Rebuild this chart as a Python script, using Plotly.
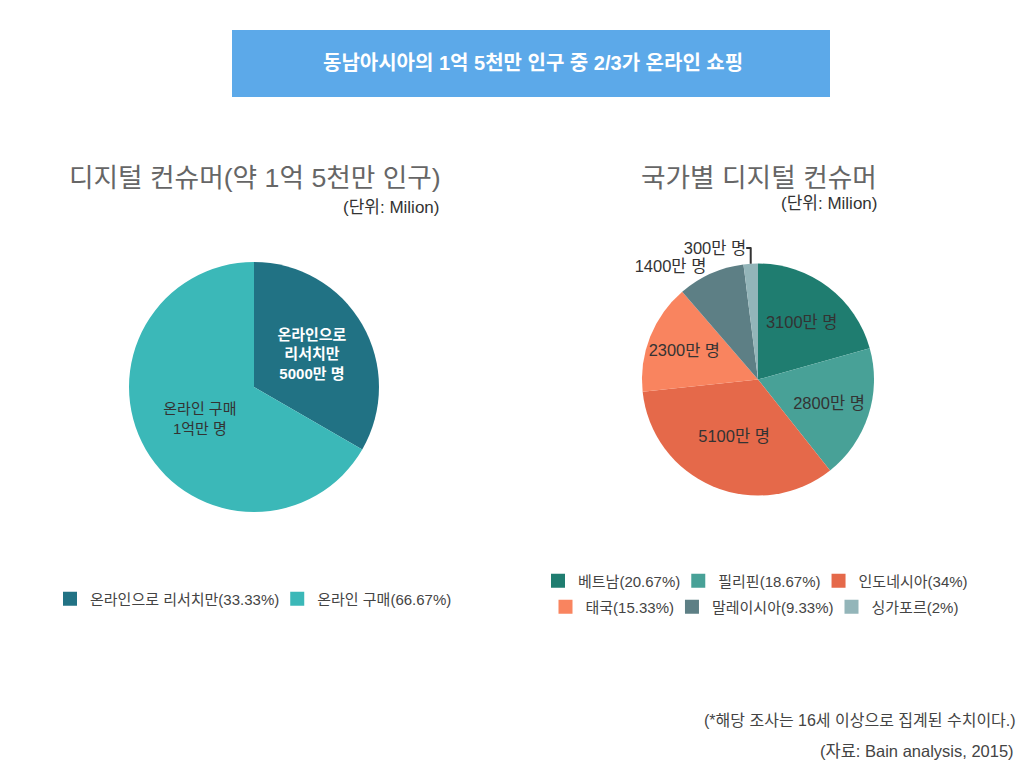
import plotly.graph_objects as go

# ---- data ----
left_labels = ["온라인으로 리서치만", "온라인 구매"]
left_values = [50, 100]
left_text = ["<b>온라인으로<br>리서치만<br>5000만 명</b>", "온라인 구매<br>1억만 명"]
left_colors = ["#217284", "#3bb8b8"]

right_labels = ["베트남", "필리핀", "인도네시아", "태국", "말레이시아", "싱가포르"]
right_values = [31, 28, 51, 23, 14, 3]
right_colors = ["#1f7d70", "#48a197", "#e5694a", "#f9845f", "#5d7f85", "#93b5b9"]

title_text = "동남아시아의 1억 5천만 인구 중 2/3가 온라인 쇼핑"
left_title = "디지털 컨슈머(약 1억 5천만 인구)"
right_title = "국가별 디지털 컨슈머"
unit_text = "(단위: Milion)"
note_text = "(*해당 조사는 16세 이상으로 집계된 수치이다.)"
source_text = "(자료: Bain analysis, 2015)"

FONT = "Liberation Sans, Noto Sans CJK KR, sans-serif"
W, H = 1024, 771


def px(x):
    return x / W


def py(y):
    return 1 - y / H


def pct_name(labels, values):
    tot = sum(values)
    return [f"{l}({round(v / tot * 100, 2):g}%)" for l, v in zip(labels, values)]


fig = go.Figure()

fig.add_trace(go.Pie(
    labels=left_labels,
    values=left_values,
    text=left_text,
    texttemplate="%{text}",
    textposition="inside",
    insidetextorientation="horizontal",
    textfont=dict(size=15, color=["#ffffff", "#333333"], family=FONT),
    marker=dict(colors=left_colors, line=dict(width=0)),
    sort=False, direction="clockwise", rotation=0,
    domain=dict(x=[px(129), px(379)], y=[py(512), py(262)]),
    hoverinfo="skip",
    showlegend=False,
))

right_text = [f"{v * 100}만 명" for v in right_values]
fig.add_trace(go.Pie(
    labels=right_labels,
    values=right_values,
    text=right_text,
    texttemplate="%{text}",
    textposition=["inside", "inside", "inside", "inside", "outside", "outside"],
    insidetextorientation="horizontal",
    textfont=dict(size=16.5, color="#333333", family=FONT),
    outsidetextfont=dict(size=16.5, color="#333333", family=FONT),
    marker=dict(colors=right_colors, line=dict(width=0)),
    sort=False, direction="clockwise", rotation=0,
    domain=dict(x=[px(642), px(874)], y=[py(496), py(263)]),
    hoverinfo="skip",
    showlegend=False,
))

# legend entries (square swatches)
for n, c in zip(pct_name(left_labels, left_values), left_colors):
    fig.add_trace(go.Scatter(
        x=[None], y=[None], mode="markers", name=n,
        marker=dict(symbol="square", size=14, color=c),
        legend="legend", hoverinfo="skip",
    ))

for i, (n, c) in enumerate(zip(pct_name(right_labels, right_values), right_colors)):
    fig.add_trace(go.Scatter(
        x=[None], y=[None], mode="markers", name=n,
        marker=dict(symbol="square", size=14, color=c),
        legend="legend2" if i < 3 else "legend3",
        hoverinfo="skip",
    ))

leg_common = dict(orientation="h", font=dict(size=15, color="#444444", family=FONT),
                  bgcolor="rgba(0,0,0,0)", yanchor="middle", itemclick=False,
                  itemdoubleclick=False, indentation=-7)

fig.update_layout(
    width=W, height=H,
    margin=dict(l=0, r=0, t=0, b=0),
    paper_bgcolor="white", plot_bgcolor="white",
    font=dict(family=FONT, color="#333333"),
    xaxis=dict(visible=False), yaxis=dict(visible=False),
    legend=dict(x=px(257), xanchor="center", y=py(599), **leg_common),
    legend2=dict(x=px(759), xanchor="center", y=py(581), **leg_common),
    legend3=dict(x=px(758), xanchor="center", y=py(607), **leg_common),
    shapes=[dict(type="rect", xref="paper", yref="paper",
                 x0=px(232), x1=px(830), y0=py(97), y1=py(30),
                 fillcolor="#5ca9e9", line=dict(width=0), layer="below")],
    annotations=[
        dict(text=f"<b>{title_text}</b>", x=px(533), y=py(63), xref="paper", yref="paper",
             showarrow=False, font=dict(size=20, color="white", family=FONT),
             xanchor="center", yanchor="middle"),
        dict(text=left_title, x=px(67), y=py(178), xref="paper", yref="paper",
             showarrow=False, font=dict(size=26.7, color="#666666", family=FONT),
             xanchor="left", yanchor="middle"),
        dict(text=unit_text, x=px(441), y=py(208), xref="paper", yref="paper",
             showarrow=False, font=dict(size=17, color="#333333", family=FONT),
             xanchor="right", yanchor="middle"),
        dict(text=right_title, x=px(639), y=py(178), xref="paper", yref="paper",
             showarrow=False, font=dict(size=26.7, color="#666666", family=FONT),
             xanchor="left", yanchor="middle"),
        dict(text=unit_text, x=px(879), y=py(204), xref="paper", yref="paper",
             showarrow=False, font=dict(size=17, color="#333333", family=FONT),
             xanchor="right", yanchor="middle"),
        dict(text=note_text, x=px(1018), y=py(720), xref="paper", yref="paper",
             showarrow=False, font=dict(size=16, color="#444444", family=FONT),
             xanchor="right", yanchor="middle"),
        dict(text=source_text, x=px(1016), y=py(751), xref="paper", yref="paper",
             showarrow=False, font=dict(size=16.5, color="#444444", family=FONT),
             xanchor="right", yanchor="middle"),
    ],
)

fig.write_html("out.html")
